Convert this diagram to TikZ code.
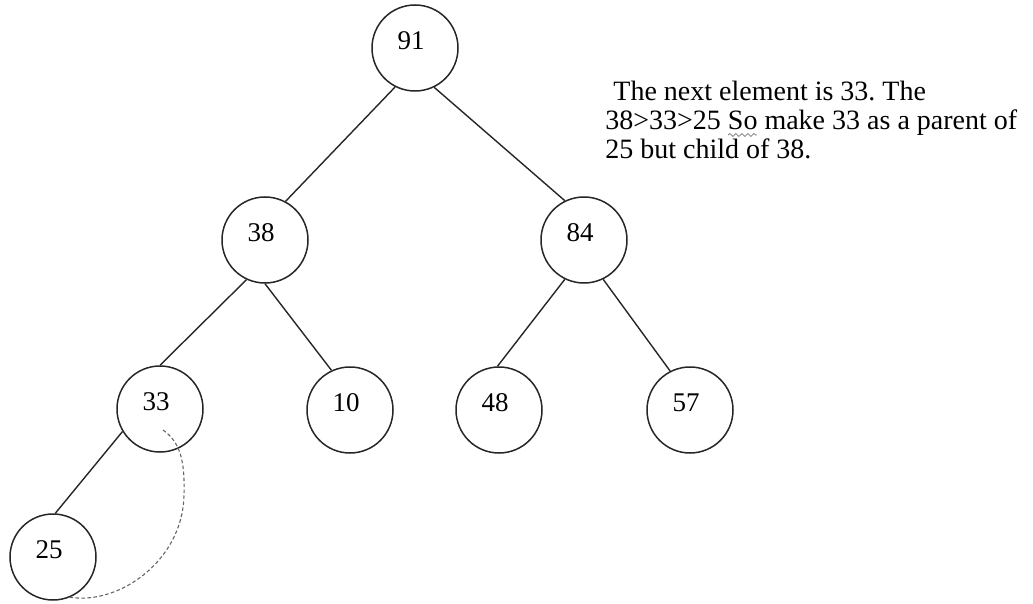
\documentclass[tikz,border=0pt]{standalone}
\usepackage{fontspec}
\setmainfont{Liberation Serif}
\frenchspacing
\usetikzlibrary{decorations.pathmorphing}

\begin{document}
\begin{tikzpicture}[x=0.5pt, y=-0.5pt,
    vtx/.style={circle, draw=black!85, line width=0.75pt, minimum size=43pt, inner sep=0pt, label={[num]center:#1}},
    num/.style={font=\fontsize{13.5}{16}\selectfont, xshift=-2pt, yshift=3.5pt},
    edge/.style={draw=black!85, line width=0.7pt},
    note/.style={font=\fontsize{14}{14.5}\selectfont, align=left, inner sep=0pt}]
    \useasboundingbox (0,0) rectangle (1033,604);

    % heap nodes
    \node[vtx=91] (n91) at (415,48) {};
    \node[vtx=38] (n38) at (265,240) {};
    \node[vtx=84] (n84) at (584,240) {};
    \node[vtx=33] (n33) at (160,409) {};
    \node[vtx=10] (n10) at (350,410) {};
    \node[vtx=48] (n48) at (499,410) {};
    \node[vtx=57] (n57) at (690,410) {};
    \node[vtx=25] (n25) at (53,557) {};

    % tree edges
    \draw[edge] (n91.-117) -- (n38.62);
    \draw[edge] (n91.-64) -- (n84.116);
    \draw[edge] (n38.-115) -- (n33.90);
    \draw[edge] (n38.-90) -- (n10.115);
    \draw[edge] (n84.-116) -- (n48.92);
    \draw[edge] (n84.-64) -- (n57.117);
    \draw[edge] (n33.-149) -- (n25.87);

    % swap hint
    \coordinate (s0) at (163,430);
    \draw[black!60, line width=0.55pt, dash pattern=on 1.8pt off 1.2pt]
        (s0) .. controls (180,442) and (185,460) .. (184,495)
        .. controls (183,560) and (120,605) .. (n25.-67);

    % note
    \node[note, anchor=north west] (note) at (605,81)
        {\hspace*{4pt}The next element is 33. The\\38>33>25 So make 33 as a parent of\\25 but child of 38.};
    \draw[gray, line width=0.4pt, decorate, decoration={snake, amplitude=0.7pt, segment length=3pt}]
        (728,135) -- (757,135);
\end{tikzpicture}
\end{document}
